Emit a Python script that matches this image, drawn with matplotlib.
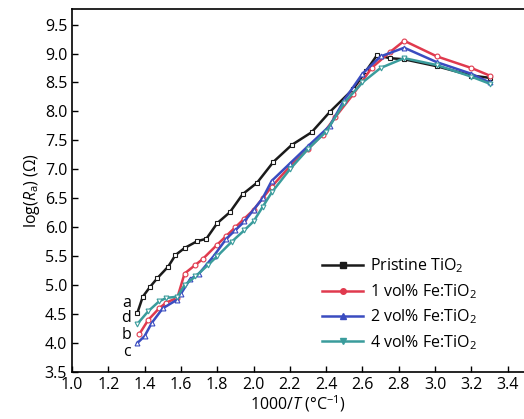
import matplotlib
matplotlib.use("Agg")
import matplotlib.pyplot as plt

# Data
x_pristine = [1.36, 1.39, 1.43, 1.47, 1.53, 1.57, 1.62, 1.69, 1.74, 1.80, 1.87, 1.94, 2.02,
              2.11, 2.21, 2.32, 2.42, 2.55, 2.62, 2.68, 2.75, 2.83, 3.01, 3.20, 3.30]
y_pristine = [4.52, 4.80, 4.97, 5.12, 5.32, 5.52, 5.64, 5.76, 5.80, 6.07, 6.26, 6.57, 6.77,
              7.13, 7.42, 7.64, 7.99, 8.39, 8.70, 8.97, 8.92, 8.90, 8.78, 8.62, 8.58]

x_fe1 = [1.37, 1.42, 1.48, 1.52, 1.58, 1.62, 1.68, 1.72, 1.80, 1.85, 1.90, 1.95, 2.00,
         2.05, 2.10, 2.20, 2.30, 2.38, 2.45, 2.55, 2.65, 2.75, 2.83, 3.01, 3.20, 3.30]
y_fe1 = [4.15, 4.40, 4.60, 4.70, 4.78, 5.20, 5.35, 5.45, 5.70, 5.85, 6.00, 6.15, 6.30,
         6.50, 6.70, 7.05, 7.35, 7.60, 7.90, 8.30, 8.75, 9.02, 9.22, 8.95, 8.75, 8.62]

x_fe2 = [1.36, 1.40, 1.44, 1.50, 1.58, 1.60, 1.65, 1.70, 1.78, 1.85, 1.90, 1.95, 2.00,
         2.05, 2.10, 2.20, 2.30, 2.42, 2.50, 2.60, 2.70, 2.83, 3.01, 3.20, 3.30]
y_fe2 = [4.00, 4.12, 4.35, 4.60, 4.75, 4.85, 5.10, 5.20, 5.50, 5.80, 5.95, 6.10, 6.30,
         6.50, 6.80, 7.10, 7.40, 7.75, 8.20, 8.65, 8.95, 9.10, 8.85, 8.65, 8.50]

x_fe4 = [1.36, 1.42, 1.48, 1.52, 1.58, 1.62, 1.68, 1.75, 1.80, 1.88, 1.95, 2.00, 2.05,
         2.10, 2.20, 2.30, 2.40, 2.50, 2.60, 2.70, 2.83, 3.01, 3.20, 3.30]
y_fe4 = [4.33, 4.55, 4.72, 4.78, 4.80, 5.00, 5.15, 5.35, 5.50, 5.75, 5.95, 6.10, 6.35,
         6.60, 7.00, 7.35, 7.65, 8.15, 8.50, 8.75, 8.92, 8.80, 8.60, 8.48]

labels = ["Pristine TiO$_2$", "1 vol% Fe:TiO$_2$", "2 vol% Fe:TiO$_2$", "4 vol% Fe:TiO$_2$"]
curve_letters = ["a", "d", "b", "c"]
letter_y = [4.70, 4.43, 4.14, 3.85]
x_ticks = [1.0, 1.2, 1.4, 1.6, 1.8, 2.0, 2.2, 2.4, 2.6, 2.8, 3.0, 3.2, 3.4]
y_ticks = [3.5, 4.0, 4.5, 5.0, 5.5, 6.0, 6.5, 7.0, 7.5, 8.0, 8.5, 9.0, 9.5]

plt.rcParams['font.family'] = ['Open Sans', 'DejaVu Sans']
plt.rcParams['mathtext.fontset'] = 'custom'
plt.rcParams['mathtext.rm'] = 'Open Sans'
plt.rcParams['mathtext.it'] = 'Open Sans:italic'

fig = plt.figure(figsize=(5.24, 4.19), dpi=100)
ax = fig.add_axes([72/524, 47/419, 452/524, 362.5/419])

series = [
    (x_pristine, y_pristine, "#1a1a1a", "s"),
    (x_fe1, y_fe1, "#e03a4e", "o"),
    (x_fe2, y_fe2, "#3a4cc0", "^"),
    (x_fe4, y_fe4, "#3a9c9c", "v"),
]
for (xs, ys, c, m), lab in zip(series, labels):
    ax.plot(xs, ys, color=c, lw=1.8, marker=m, ms=3.5, mfc="white", mec=c, mew=0.8)
    ax.plot([], [], color=c, lw=1.8, marker=m, ms=4, mfc=c, mec=c, label=lab)

for t, yy in zip(curve_letters, letter_y):
    ax.text(1.30, yy, t, fontsize=11.5, ha="center", va="center")

ax.set_xlim(1.0, 3.49)
ax.set_ylim(3.5, 9.76)
ax.set_xticks(x_ticks)
ax.set_yticks(y_ticks)
ax.set_xticklabels([f"{v:.1f}" for v in x_ticks])
ax.set_yticklabels([f"{v:.1f}" for v in y_ticks])
ax.tick_params(direction="in", length=4, width=1, labelsize=11.5)
ax.spines["right"].set_visible(False)
for s in ["left", "bottom", "top"]:
    ax.spines[s].set_linewidth(1.2)

ax.set_xlabel("1000/$T$ (°C$^{-1}$)", fontsize=11.5, labelpad=0)
ax.set_ylabel("log($R_\\mathrm{a}$) (Ω)", fontsize=11.5, labelpad=2)

leg = ax.legend(loc="upper left", bbox_to_anchor=(0.553, 0.318), frameon=False,
                fontsize=11.5, handlelength=2.6, handletextpad=0.4, labelspacing=0.42,
                borderpad=0, borderaxespad=0)

fig.savefig("out.png", dpi=100)
